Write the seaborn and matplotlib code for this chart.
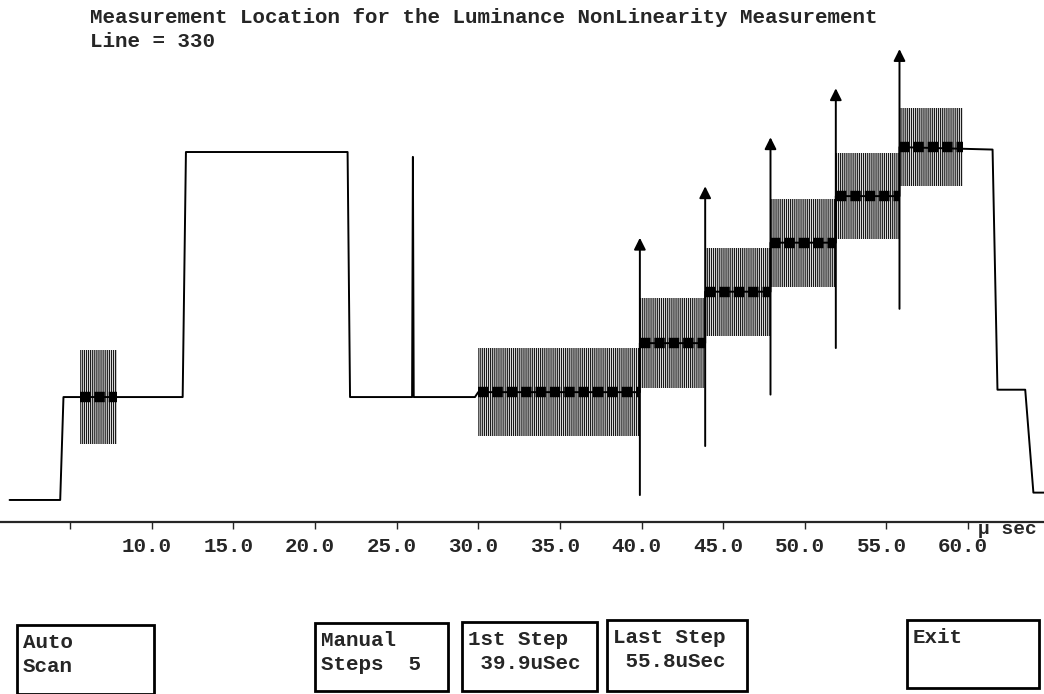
import matplotlib
matplotlib.use('Agg')
import matplotlib.pyplot as plt
import matplotlib.transforms as mtransforms
from matplotlib.patches import Rectangle
import seaborn as sns

# Trace breakpoints: time (usec) and level (IRE)
wave_t = [1.3, 4.4, 4.6, 11.9, 12.1, 22.0, 22.15, 25.95, 26.0, 26.05, 29.8, 30.0,
          39.9, 39.9, 43.9, 43.9, 47.9, 47.9, 51.9, 51.9, 55.8, 55.8,
          61.5, 61.8, 63.5, 64.0, 64.7]
wave_ire = [-42, -42, 0, 0, 100, 100, 0, 0, 98, 0, 0, 2,
            2, 22, 22, 43, 43, 63, 63, 82, 82, 102,
            101, 3, 3, -39, -39]

# Subcarrier-modulated segments (burst + modulated staircase)
mod_start = [5.6, 30.0, 39.9, 43.9, 47.9, 51.9, 55.8]
mod_end = [7.9, 39.9, 43.9, 47.9, 51.9, 55.8, 59.7]
mod_level = [0, 2, 22, 43, 63, 82, 102]
mod_amp = [19, 18, 18.5, 18, 18, 17.5, 16]

# Measurement location markers
arrow_t = [39.9, 43.9, 47.9, 51.9, 55.8]
arrow_tail = [-40, -20, 1, 20, 36]
arrow_head = [65, 86, 106, 126, 142]

tick_pos = [5, 10, 15, 20, 25, 30, 35, 40, 45, 50, 55, 60]
tick_lab = ['', '10.0', '15.0', '20.0', '25.0', '30.0', '35.0', '40.0',
            '45.0', '50.0', '55.0', '60.0']

title = 'Measurement Location for the Luminance NonLinearity Measurement'
subtitle = 'Line = 330'
buttons = ['Auto\nScan', 'Manual\nSteps  5', '1st Step\n 39.9uSec',
           'Last Step\n 55.8uSec', 'Exit']
button_box = [(17, 625, 137, 69), (315, 623, 133, 68), (462, 622, 135, 69),
              (607, 620, 140, 71), (907, 620, 132, 68)]

sns.set_style('white')
plt.rcParams['font.family'] = ['Liberation Mono', 'DejaVu Sans Mono']
plt.rcParams['font.weight'] = 'bold'
plt.rcParams['hatch.linewidth'] = 0.9

fig = plt.figure(figsize=(10.44, 6.94), dpi=100)
ax = fig.add_axes([0, 0.2478, 1, 0.709])

sns.lineplot(x=wave_t, y=wave_ire, sort=False, estimator=None,
             color='black', lw=1.4, ax=ax)

for s, e, lv, a in zip(mod_start, mod_end, mod_level, mod_amp):
    ax.fill_between([s, e], lv - a, lv + a, facecolor='none',
                    edgecolor='#1a1a1a', hatch='||||||||', linewidth=0)
    ax.plot([s, e], [lv, lv], color='black', lw=7.5,
            linestyle=(0, (1.0, 0.38)), dash_capstyle='butt')

for t, a, b in zip(arrow_t, arrow_tail, arrow_head):
    ax.annotate('', xy=(t, b), xytext=(t, a),
                arrowprops=dict(arrowstyle='-|>,head_length=0.7,head_width=0.35',
                                color='black', lw=1.4, shrinkA=0, shrinkB=0))

ax.set_xlim(0.713, 64.65)
ax.set_ylim(-51, 149.8)
ax.set_xticks(tick_pos)
ax.set_xticklabels(tick_lab)
ax.set_yticks([])
ax.tick_params(axis='x', direction='out', length=5, width=1, pad=6,
               labelsize=15, bottom=True)
shift = mtransforms.ScaledTranslation(-5 / 100, 0, fig.dpi_scale_trans)
for lab in ax.get_xticklabels():
    lab.set_transform(lab.get_transform() + shift)
sns.despine(ax=ax, left=True)
ax.spines['bottom'].set_linewidth(1.6)
ax.set_xlabel('')
ax.set_ylabel('')

# overlay in pixel coordinates for the screen texts and buttons
ov = fig.add_axes([0, 0, 1, 1])
ov.set_xlim(0, 1044)
ov.set_ylim(694, 0)
ov.axis('off')
ov.text(90, 17, title, fontsize=15, va='center', ha='left')
ov.text(90, 41, subtitle, fontsize=15, va='center', ha='left')
ov.text(978, 529, 'µ sec', fontsize=14, va='center', ha='left')
for lab, (x, y, w, h) in zip(buttons, button_box):
    ov.add_patch(Rectangle((x, y), w, h, fill=False, lw=2, ec='black'))
    ov.text(x + 6, y + 8, lab, fontsize=15, va='top', ha='left', linespacing=1.35)

plt.savefig('out.png', dpi=100)
